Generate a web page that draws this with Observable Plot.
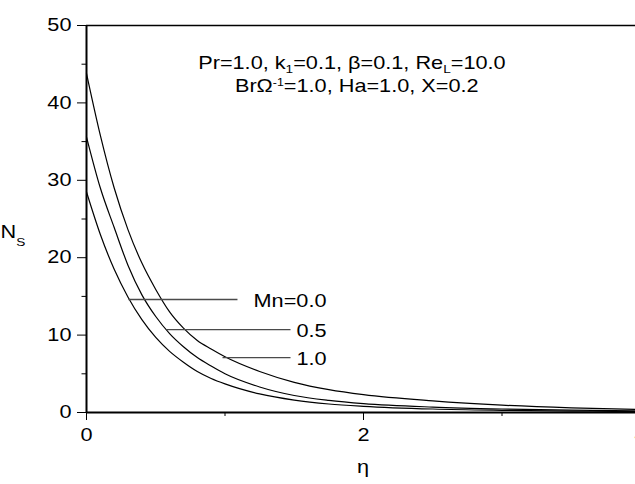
<!DOCTYPE html>
<html><head><meta charset="utf-8">
<script src="https://cdn.jsdelivr.net/npm/d3@7"></script>
<script src="https://cdn.jsdelivr.net/npm/@observablehq/plot@0.6"></script>
<style>html,body{margin:0;padding:0;overflow:hidden;background:#fff}#chart svg{max-width:none !important;width:650px;height:484px}</style>
</head><body><div id="chart"></div>
<script>
// η values (x) and N_S for each Mn
const eta    = [0, 0.1, 0.2, 0.3, 0.4, 0.5, 0.6, 0.7, 0.8, 0.9, 1.0, 1.25, 1.5, 1.75, 2.0, 2.5, 3.0, 3.5, 4.0];
const nsMn00 = [28.5, 23.0, 18.5, 14.9, 12.0, 9.7, 7.9, 6.5, 5.3, 4.4, 3.7, 2.4, 1.6, 1.1, 0.8, 0.45, 0.28, 0.18, 0.12];
const nsMn05 = [35.6, 29.0, 23.9, 19.0, 15.2, 12.4, 10.2, 8.5, 7.1, 6.0, 5.0, 3.3, 2.2, 1.57, 1.15, 0.7, 0.45, 0.3, 0.2];
const nsMn10 = [43.8, 35.8, 29.0, 23.6, 19.3, 15.9, 13.0, 10.9, 9.3, 8.2, 7.2, 5.3, 3.9, 2.95, 2.3, 1.5, 0.95, 0.6, 0.38];
const seriesLabels = ["Mn=0.0", "0.5", "1.0"];
// label pointers: level (N_S), start η on curve, end η, label η
const pointerY  = [14.6, 10.7, 7.1];
const pointerX1 = [0.303, 0.578, 0.982];
const pointerX2 = [1.09, 1.473, 1.473];
const labelX    = [1.206, 1.516, 1.516];
const yTicks = [0, 10, 20, 30, 40, 50];
const yMinor = [5, 15, 25, 35, 45];
const xTicks = [0, 2, 4];
const xMinor = [1, 3];

const series = [nsMn00, nsMn05, nsMn10];
const lineData = series.flatMap((s, k) => eta.map((e, i) => ({eta: e, ns: s[i], mn: seriesLabels[k]})));
const pointers = seriesLabels.map((l, k) => ({label: l, y: pointerY[k], x1: pointerX1[k], x2: pointerX2[k], lx: labelX[k]}));

const FS = 17.5, SX = 1.24;
const plot = Plot.plot({
  width: 650, height: 484,
  marginLeft: 86, marginRight: 10, marginTop: 25, marginBottom: 72,
  style: {fontFamily: "'Liberation Sans', Arial, sans-serif", fontSize: FS + "px", color: "black", background: "white", overflow: "visible", maxWidth: "none"},
  x: {domain: [0, 4]},
  y: {domain: [0, 50]},
  marks: [
    Plot.axisY({ticks: yTicks, tickSize: 9, tickPadding: 6, tickFormat: d => String(d), label: null, fontSize: FS}),
    Plot.axisY({ticks: yMinor, tickSize: 4.5, tickFormat: () => "", label: null}),
    Plot.axisX({ticks: xTicks, tickSize: 8, tickPadding: 8, tickFormat: d => String(d), label: null, fontSize: FS}),
    Plot.axisX({ticks: xMinor, tickSize: 4, tickFormat: () => "", label: null}),
    Plot.ruleY([50], {stroke: "black", strokeWidth: 1.6}),
    Plot.line(lineData, {x: "eta", y: "ns", z: "mn", stroke: "black", strokeWidth: 1.2, curve: "monotone-x"}),
    Plot.link(pointers, {x1: "x1", x2: "x2", y1: "y", y2: "y", stroke: "#4a4a4a", strokeWidth: 1.3}),
    Plot.text(pointers, {x: "lx", y: "y", text: "label", textAnchor: "start", lineAnchor: "middle", fontSize: FS, fill: "black", dy: 2}),
    Plot.ruleX([0], {stroke: "black", strokeWidth: 2}),
    Plot.ruleY([0], {stroke: "black", strokeWidth: 2})
  ]
});

const svg = d3.select(plot);
// stretch text horizontally around its anchor to match the reference's wide lettering
function stretch(sel) {
  sel.each(function() {
    const t = d3.select(this);
    const xa = t.attr("x");
    const x = (xa && /^-?[\d.]+$/.test(xa)) ? +xa : 0;
    const tr = t.attr("transform") || "";
    t.attr("transform", `${tr} translate(${x},0) scale(${SX},1) translate(${-x},0)`.trim());
  });
}
svg.selectAll("text").call(stretch);

const xs = plot.scale("x");
const g = svg.append("g").attr("font-family", "'Liberation Sans', Arial, sans-serif").attr("fill", "black");
// parameter annotation
const cx1 = xs.apply(1.92), by1 = 69.5, cx2 = xs.apply(1.955), by2 = 92;
const t1 = g.append("text").attr("x", cx1).attr("y", by1).attr("text-anchor", "middle").attr("font-size", FS);
t1.append("tspan").text("Pr=1.0, k");
t1.append("tspan").attr("font-size", 11).attr("dy", 4).text("1");
t1.append("tspan").attr("dy", -4).text("=0.1, β=0.1, Re");
t1.append("tspan").attr("font-size", 11).attr("dy", 4).text("L");
t1.append("tspan").attr("dy", -4).text("=10.0");
const t2 = g.append("text").attr("x", cx2).attr("y", by2).attr("text-anchor", "middle").attr("font-size", FS);
t2.append("tspan").text("BrΩ");
t2.append("tspan").attr("font-size", 10).attr("dy", -6).text("-1");
t2.append("tspan").attr("dy", 6).text("=1.0, Ha=1.0, X=0.2");
// axis titles
const yl = g.append("text").attr("x", 13).attr("y", 238).attr("font-size", FS);
yl.append("tspan").text("N");
yl.append("tspan").attr("font-size", 11).attr("dy", 8).text("S");
g.append("text").attr("x", xs.apply(2)).attr("y", 473).attr("text-anchor", "middle").attr("font-size", FS).text("η");
g.selectAll("text").call(stretch);

document.getElementById("chart").appendChild(plot);
</script></body></html>
